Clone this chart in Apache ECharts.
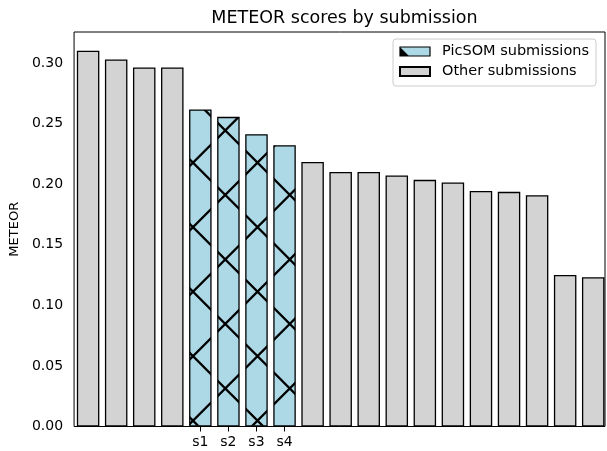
<!DOCTYPE html>
<html>
<head>
<meta charset="utf-8">
<script src="https://cdn.jsdelivr.net/npm/echarts@6/dist/echarts.min.js"></script>
<style>
html,body{margin:0;padding:0;background:#fff;}
#chart{width:607px;height:451px;}
</style>
</head>
<body>
<div id="chart"></div>
<script>
// ---- data ----
const scores = [0.3100, 0.3028, 0.2962, 0.2962, 0.2616, 0.2555, 0.2412, 0.2321,
                0.2183, 0.2100, 0.2100, 0.2071, 0.2035, 0.2013, 0.1944, 0.1936,
                0.1908, 0.1251, 0.1232];
const groups = ['other','other','other','other','picsom','picsom','picsom','picsom',
                'other','other','other','other','other','other','other','other',
                'other','other','other'];
const xLabels = ['', '', '', '', 's1', 's2', 's3', 's4', '', '', '', '', '', '', '', '', '', '', ''];
const yTicks = [0, 0.05, 0.10, 0.15, 0.20, 0.25, 0.30];
const seriesNames = ['PicSOM submissions', 'Other submissions'];

// ---- hatch patterns ----
const P = 64.5;
function makeHatch() {
  const T = 129;
  const c = document.createElement('canvas');
  c.width = T; c.height = T;
  const g = c.getContext('2d');
  g.fillStyle = '#add8e6';
  g.fillRect(0, 0, T, T);
  g.strokeStyle = '#000';
  g.lineWidth = 2.3;
  g.beginPath();
  for (let k = -4; k <= 4; k++) {
    const a = 34.2 + k * P;
    g.moveTo(-10, a - 10); g.lineTo(T + 10, T + 10 + a);
    const d = 33.2 + k * P;
    g.moveTo(-10, d + 10); g.lineTo(T + 10, d - T - 10);
  }
  g.stroke();
  return c;
}
function makeIcon() {
  const c = document.createElement('canvas');
  c.width = 30; c.height = 9;
  const g = c.getContext('2d');
  g.fillStyle = '#add8e6';
  g.fillRect(0, 0, 30, 9);
  g.fillStyle = '#000';
  g.beginPath();
  g.moveTo(0, 1.5); g.lineTo(0, 9); g.lineTo(7.5, 9);
  g.closePath();
  g.fill();
  g.strokeStyle = '#000';
  g.lineWidth = 2;
  g.beginPath();
  g.moveTo(0, 1.5); g.lineTo(8, 9.5);
  g.stroke();
  return c;
}
const hatch = makeHatch();
const iconCanvas = makeIcon();

const picsomData = [];
const otherData = [];
scores.forEach((v, i) => {
  if (groups[i] === 'picsom') picsomData.push([i, v]);
  else otherData.push([i, v]);
});
const labelIdx = xLabels.map((l, i) => l ? i : -1).filter(i => i >= 0);

const chart = echarts.init(document.getElementById('chart'), null, {renderer: 'canvas'});
const font = 'DejaVu Sans';
chart.setOption({
  animation: false,
  backgroundColor: '#fff',
  title: {
    text: 'METEOR scores by submission',
    left: 339.5, top: 4, textAlign: 'center',
    textStyle: {fontFamily: font, fontSize: 17.5, fontWeight: 'normal', color: '#000'}
  },
  grid: {left: 74, top: 32, width: 531, height: 394.5, show: true,
         borderColor: '#000', borderWidth: 1, backgroundColor: 'transparent', containLabel: false},
  legend: {
    orient: 'vertical', left: 393, top: 39, icon: 'rect',
    itemWidth: 30, itemHeight: 9, itemGap: 5,
    padding: [5, 7, 7, 6],
    borderColor: '#cccccc', borderWidth: 1, borderRadius: 3, backgroundColor: '#fff',
    textStyle: {fontFamily: font, fontSize: 14.5, color: '#000', lineHeight: 15, padding: [0, 0, 0, 7]},
    data: [
      {name: seriesNames[0], itemStyle: {color: {image: iconCanvas, repeat: 'no-repeat'}, borderColor: '#000', borderWidth: 1.2}},
      {name: seriesNames[1]}
    ]
  },
  xAxis: {
    type: 'value', min: -0.5, max: 18.42,
    splitLine: {show: false}, axisLine: {show: false},
    axisTick: {show: true, length: 5, lineStyle: {color: '#000', width: 1}, customValues: labelIdx},
    axisLabel: {customValues: labelIdx, formatter: v => xLabels[Math.round(v)] || '',
                fontFamily: font, fontSize: 14, color: '#000', margin: 9}
  },
  yAxis: {
    type: 'value', min: 0, max: 0.3255,
    name: 'METEOR', nameLocation: 'middle', nameRotate: 90, nameGap: 51,
    nameTextStyle: {fontFamily: font, fontSize: 13, color: '#000'},
    splitLine: {show: false}, axisLine: {show: false},
    axisTick: {show: true, length: 5, lineStyle: {color: '#000', width: 1}, customValues: yTicks},
    axisLabel: {customValues: yTicks, formatter: v => v.toFixed(2),
                fontFamily: font, fontSize: 14, color: '#000', margin: 11}
  },
  series: [
    {name: seriesNames[0], type: 'bar', data: picsomData, barWidth: 22.5, barGap: '-100%',
     itemStyle: {color: {image: hatch, repeat: 'repeat'}, borderColor: '#000', borderWidth: 1.3}},
    {name: seriesNames[1], type: 'bar', data: otherData, barWidth: 22.5, barGap: '-100%',
     itemStyle: {color: '#d3d3d3', borderColor: '#000', borderWidth: 1.3}}
  ]
});
</script>
</body>
</html>
